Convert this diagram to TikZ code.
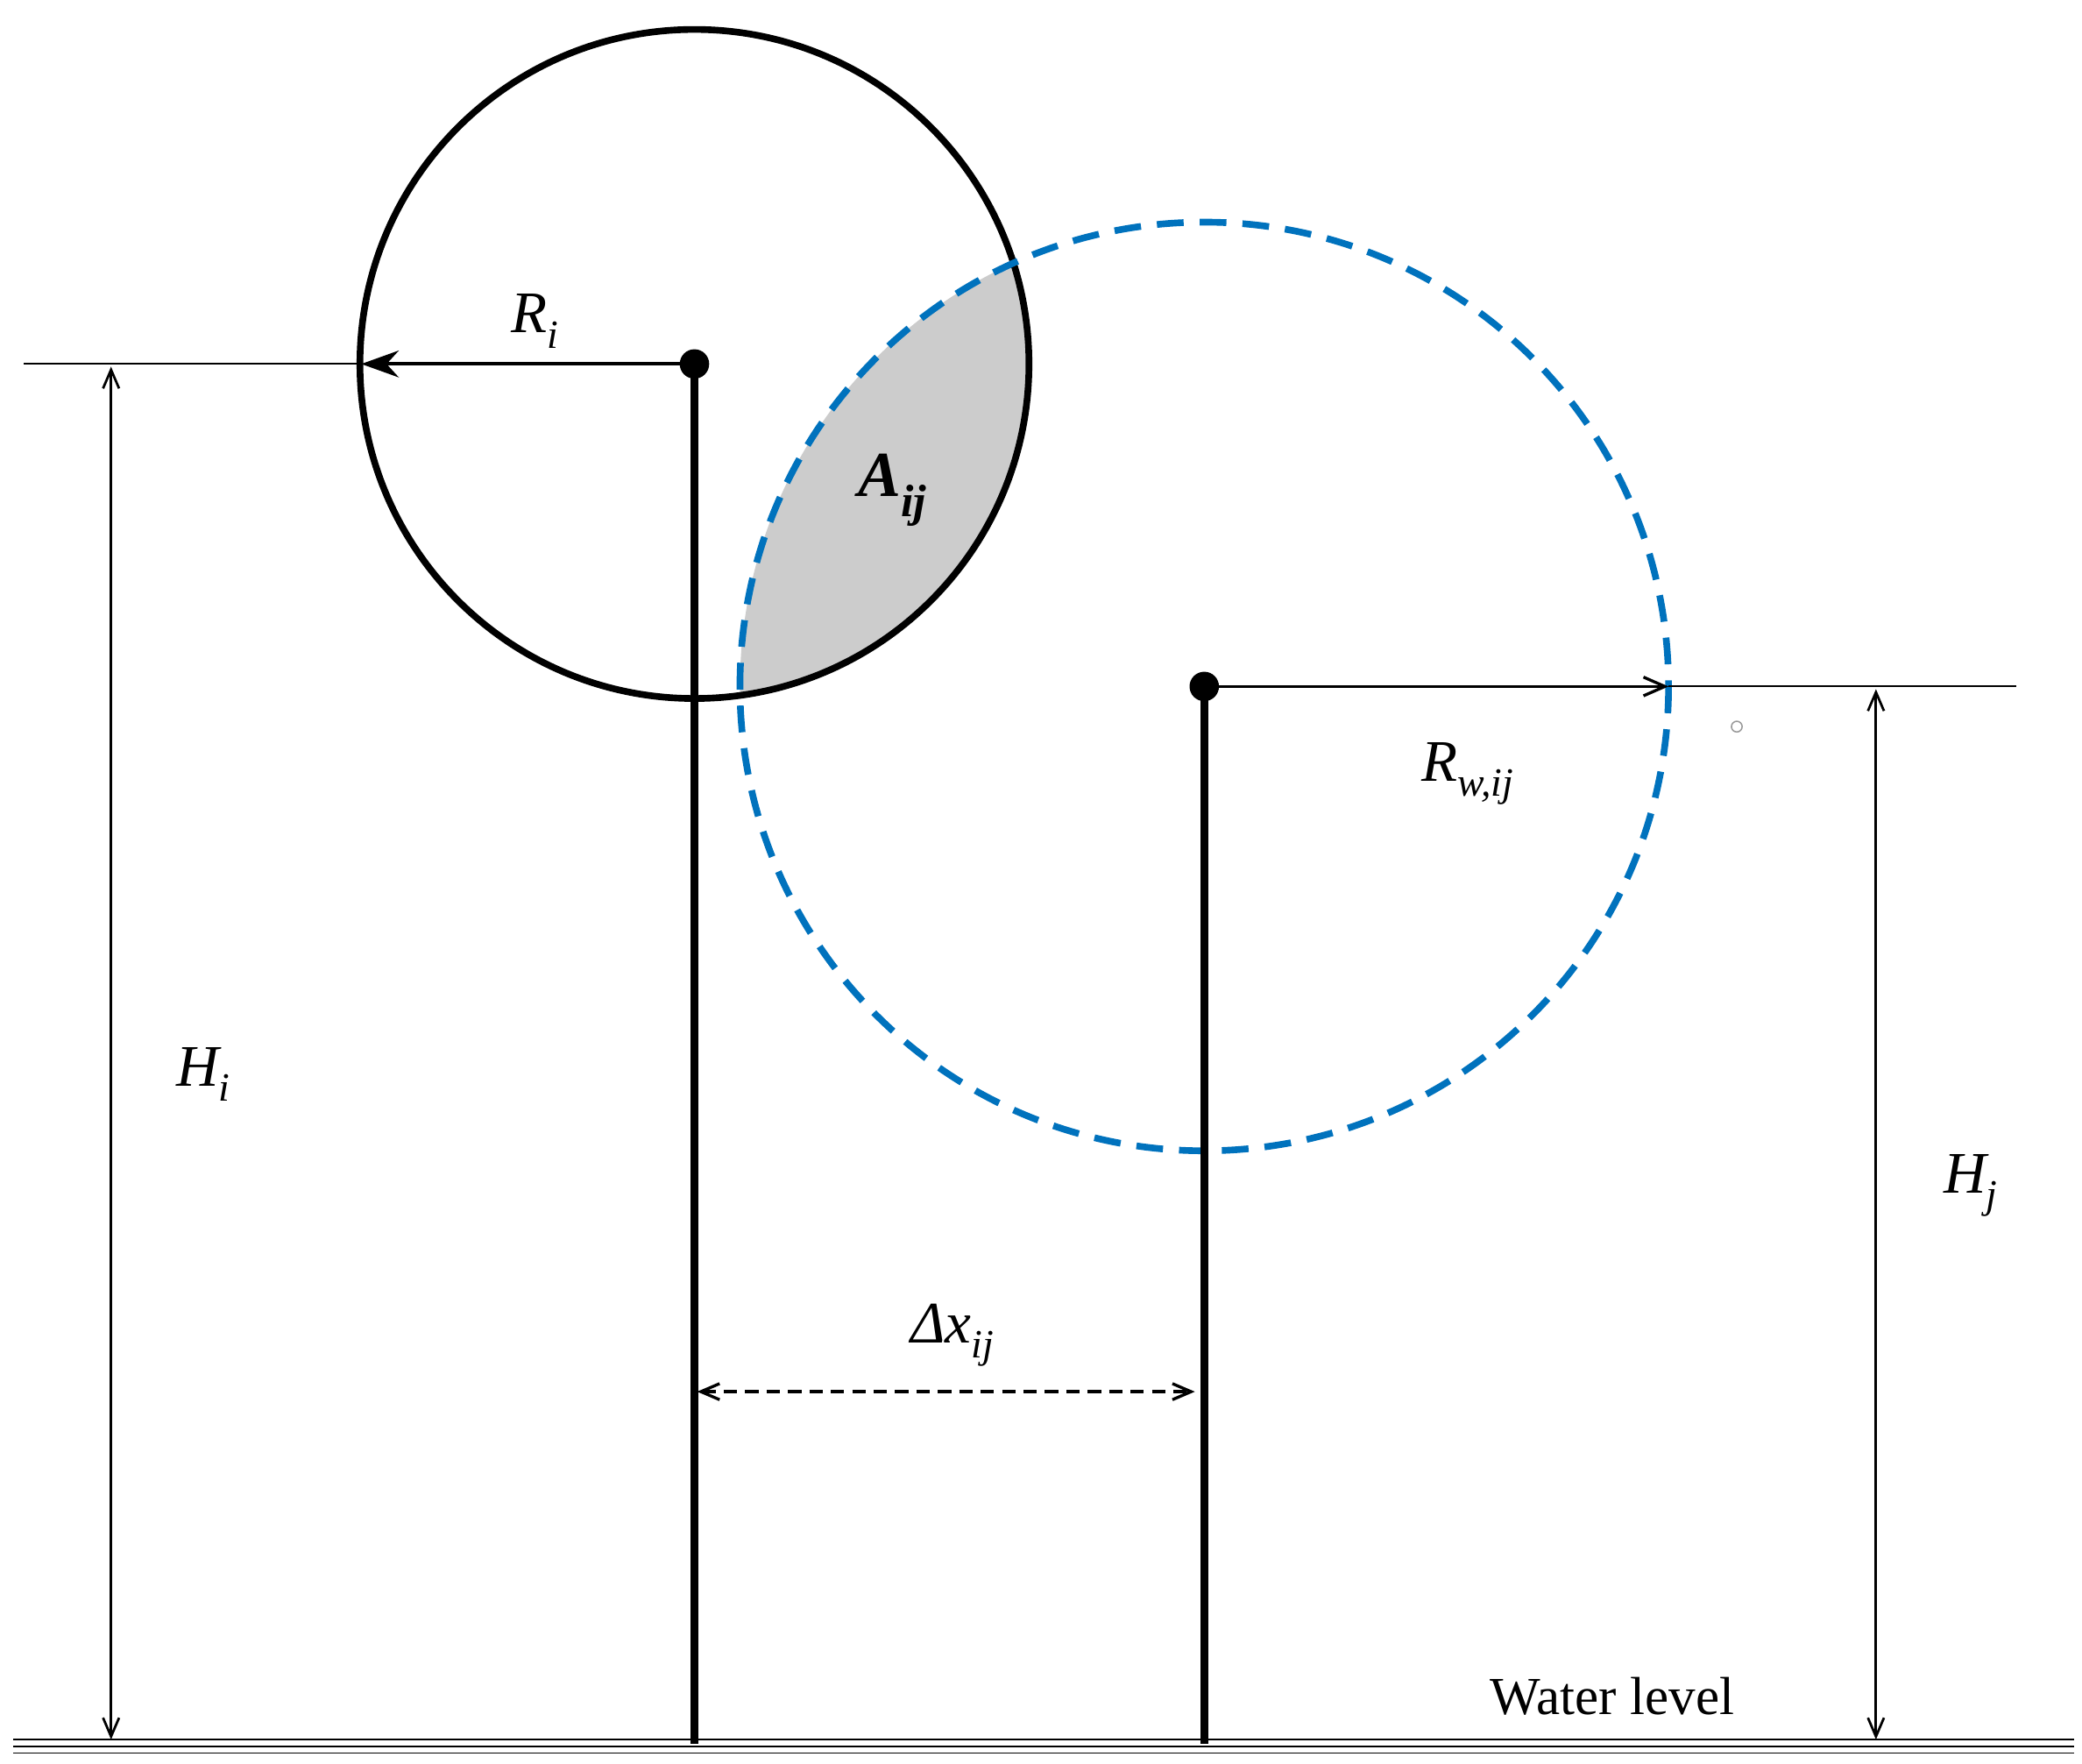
\documentclass[tikz,border=0pt]{standalone}
\usepackage{fontspec}
\setmainfont{Liberation Serif}
\usetikzlibrary{arrows.meta}
\definecolor{wblue}{RGB}{0,114,189}
\begin{document}
\begin{tikzpicture}[x=1pt,y=-1pt,
  lbl/.style={font=\fontsize{44}{50}\selectfont\itshape},
  thin/.style={line width=1.8pt},
  dim/.style={thin,{Straight Barb[length=14pt,width=12pt]}-{Straight Barb[length=14pt,width=12pt]}}]
\useasboundingbox (0,0) rectangle (1556,1318);
\coordinate (ci) at (519,272);
\coordinate (cj) at (900,513);
% shaded intersection
\begin{scope}
\clip (ci) circle (250);
\fill[black!20] (cj) circle (347);
\end{scope}
\draw[line width=5pt] (ci) circle (250);
\draw[wblue,line width=5pt,dash pattern=on 20pt off 12pt] (cj) circle (347);
% ground
\draw[line width=1.5pt] (10,1300) -- (1550,1300);
\draw[line width=1.5pt] (10,1305) -- (1550,1305);
\draw[line width=1pt] (10,1310) -- (1550,1310);
% poles
\coordinate (gi) at (519,1303);
\coordinate (gj) at (900,1303);
\draw[line width=6pt] (ci) -- (gi);
\draw[line width=6pt] (cj) -- (gj);
\fill (ci) circle (11);
\fill (cj) circle (11);
% Ri
\coordinate (li) at (18,272);
\coordinate (ri) at (270,272);
\draw[line width=1.3pt] (li) -- (ri);
\draw[line width=2.5pt,-{Stealth[length=28pt,width=20pt]}] (ci) -- (ri);
\node[lbl] (Ri) at (400,240) {R\textsubscript{\fontsize{30}{30}\selectfont i}};
% Hi
\coordinate (hi1) at (83,274);
\coordinate (hi2) at (83,1300);
\draw[dim] (hi1) -- (hi2);
\node[lbl] (Hi) at (152,803) {H\textsubscript{\fontsize{30}{30}\selectfont i}};
% Rw
\coordinate (rw) at (1247,513);
\coordinate (lj) at (1507,513);
\draw[line width=2.2pt,-{Straight Barb[length=16pt,width=14pt]}] (cj) -- (rw);
\draw[line width=1.3pt] (rw) -- (lj);
\node[lbl] (Rw) at (1097,578) {R\textsubscript{\fontsize{30}{30}\selectfont w,ij}};
% Hj
\coordinate (hj1) at (1402,515);
\coordinate (hj2) at (1402,1300);
\draw[dim] (hj1) -- (hj2);
\node[lbl] (Hj) at (1473,886) {H\textsubscript{\fontsize{30}{30}\selectfont j}};
% dx
\coordinate (dx1) at (521,1040);
\coordinate (dx2) at (893,1040);
\draw[dim,dash pattern=on 10pt off 6pt,line width=2.2pt] (dx1) -- (dx2);
\node[lbl] (dx) at (712,998) {Δx\textsubscript{\fontsize{30}{30}\selectfont ij}};
% Aij
\node[font=\fontsize{48}{50}\selectfont\bfseries\itshape] (A) at (667,366) {A\textsubscript{\fontsize{34}{34}\selectfont ij}};
% water level
\node[font=\fontsize{40}{46}\selectfont] (wl) at (1205,1268) {Water level};
\draw[black!40,line width=1pt] (1298,543) circle (4);
\end{tikzpicture}
\end{document}
